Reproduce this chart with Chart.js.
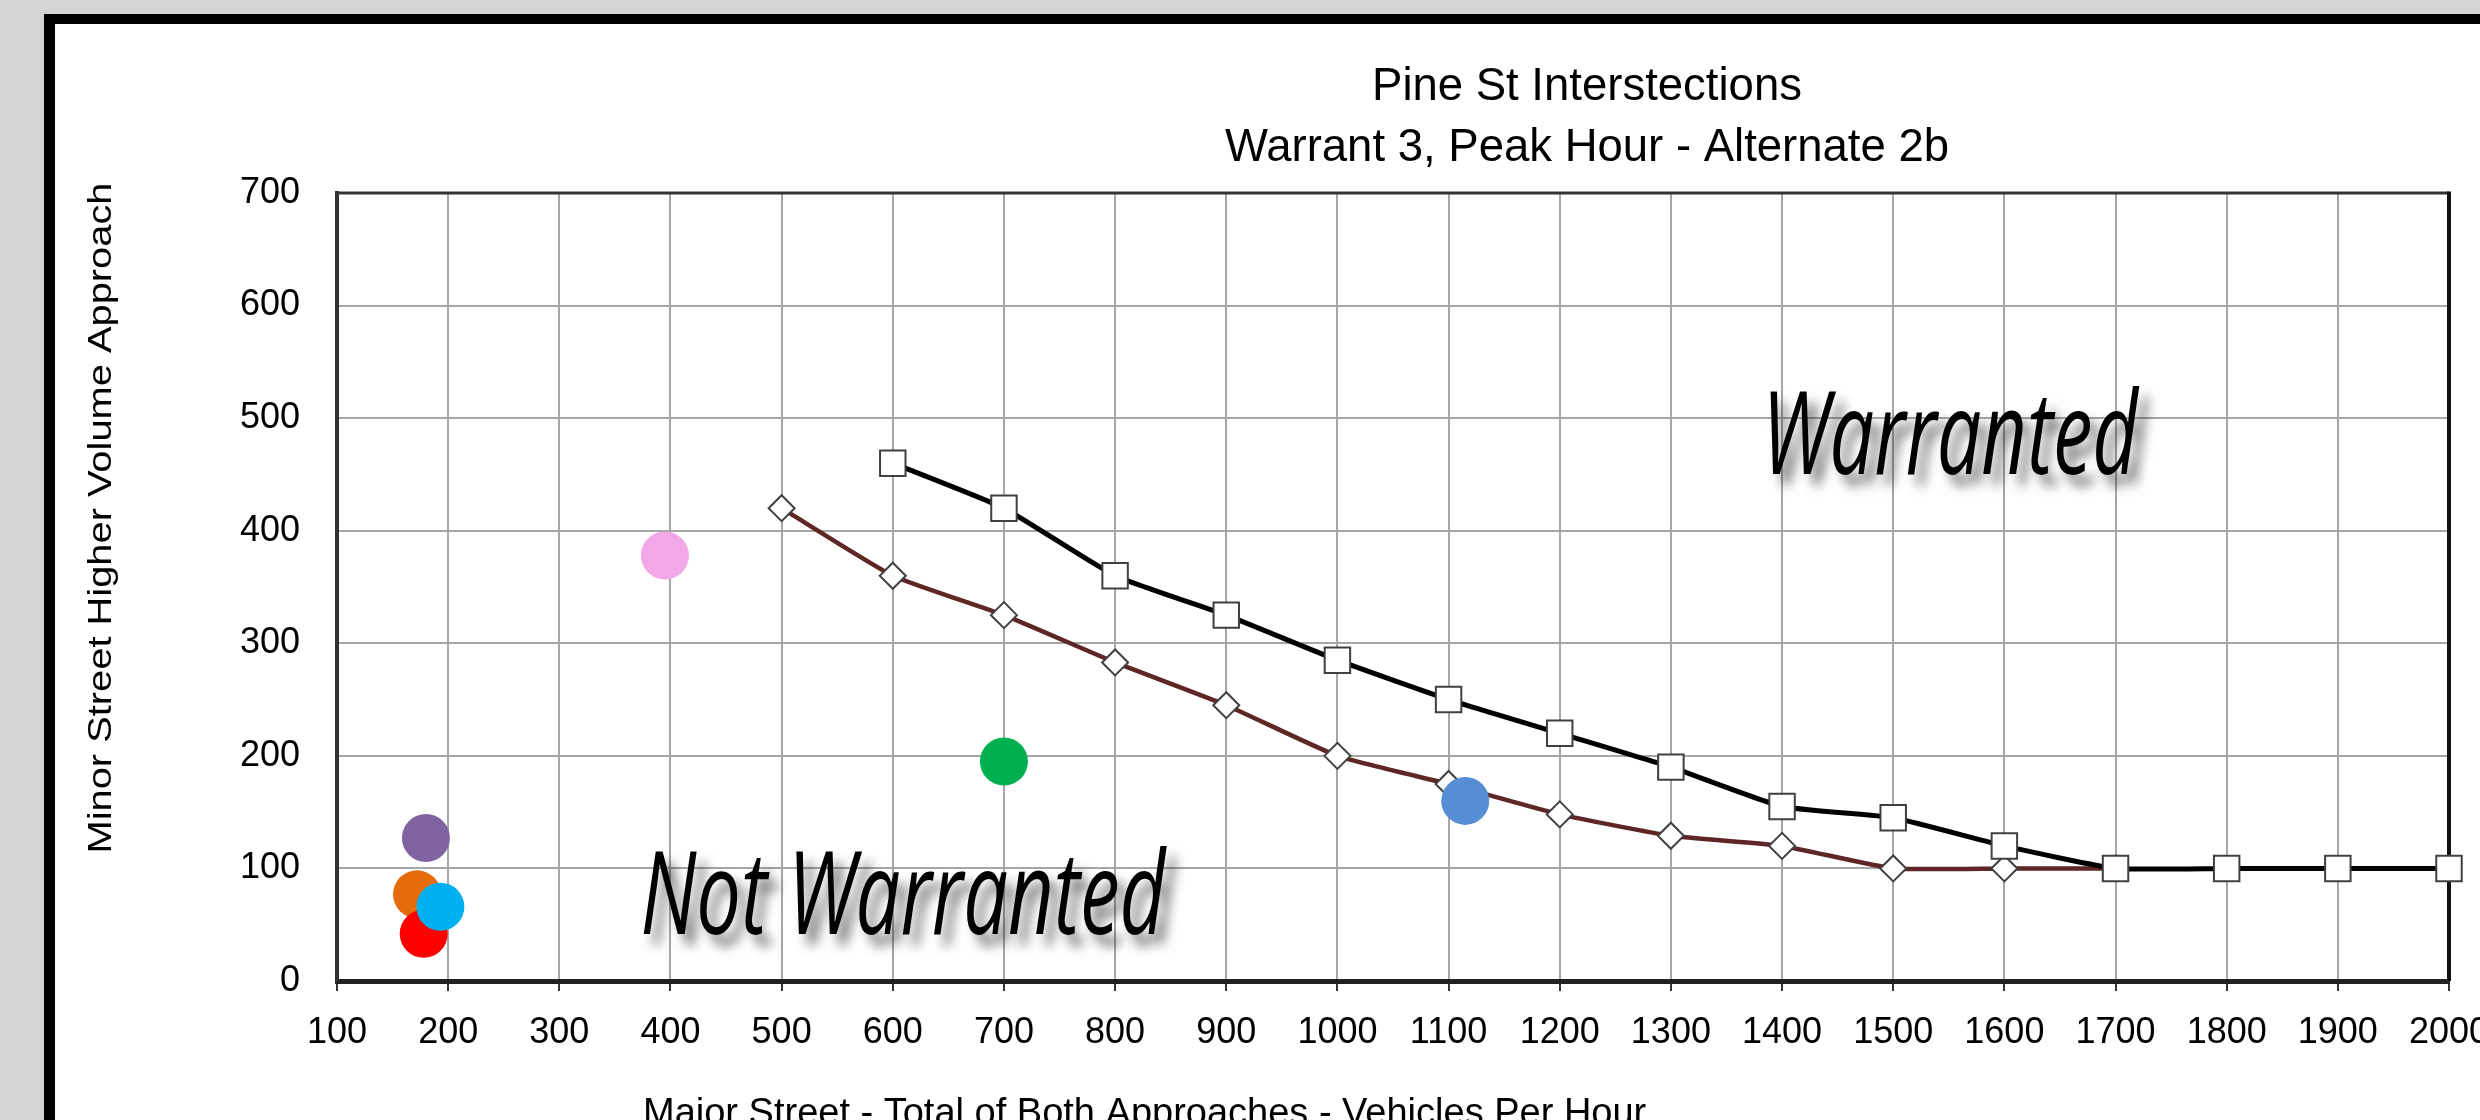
<!DOCTYPE html>
<html><head><meta charset="utf-8">
<script src="https://cdn.jsdelivr.net/npm/chart.js@4.4.1/dist/chart.umd.min.js"></script>
<style>
html,body{margin:0;padding:0;width:2480px;height:1120px;overflow:hidden;background:#d4d5d7;}
#frame{position:absolute;left:44px;top:14px;width:2500px;height:1200px;background:#fff;border-left:11px solid #000;border-top:10px solid #000;}
#wrap{position:absolute;left:0;top:0;width:2480px;height:1120px;overflow:hidden;}
canvas{position:absolute;left:0;top:0;}
</style></head><body>
<div id="frame"></div>
<div id="wrap"><canvas id="c" width="2560" height="1120"></canvas></div>
<script>
// ---- text ----
const titleLines = ['Pine St Interstections', 'Warrant 3, Peak Hour - Alternate 2b'];
const xAxisTitle = 'Major Street - Total of Both Approaches - Vehicles Per Hour';
const yAxisTitle = 'Minor Street Higher Volume Approach';
const zoneLabels = ['Warranted', 'Not Warranted'];
// zone label anchor (data coordinates: left edge / baseline)
const zoneX = [1382, 373];
const zoneY = [450, 42];

// ---- tick labels ----
const xTicks = [100,200,300,400,500,600,700,800,900,1000,1100,1200,1300,1400,1500,1600,1700,1800,1900,2000];
const yTicks = [0,100,200,300,400,500,600,700];

// ---- series: Warrant 3 peak hour curve (squares) ----
const warrantX = [600,700,800,900,1000,1100,1200,1300,1400,1500,1600,1700,1800,1900,2000];
const warrantY = [460,420,360,325,285,250,220,190,155,145,120,100,100,100,100];

// ---- series: Alternate 2b curve (diamonds) ----
const altX = [500,600,700,800,900,1000,1100,1200,1300,1400,1500,1600,1700];
const altY = [420,360,325,283,245,200,175,148,129,120,100,100,100];

// ---- intersections (coloured dots) ----
const siteX = [180,172,178,193,700,395,1115];
const siteY = [127,77,42,66,195,378,160];
const siteColors = ['#8064a2','#e46c0a','#ff0000','#00b0f0','#00b050','#f2a7e6','#558ed5'];

const FONT = '"Liberation Sans", Arial, sans-serif';

const deco = {
  id: 'deco',
  beforeDatasetsDraw(chart) {
    const {ctx, chartArea: a} = chart;
    ctx.save();
    ctx.strokeStyle = '#333'; ctx.lineWidth = 3;
    ctx.beginPath(); ctx.moveTo(a.left, a.top); ctx.lineTo(a.right, a.top); ctx.stroke();
    ctx.strokeStyle = '#111'; ctx.lineWidth = 4;
    ctx.beginPath(); ctx.moveTo(a.right, a.top - 1.5); ctx.lineTo(a.right, a.bottom); ctx.stroke();
    ctx.restore();
  },
  afterDraw(chart) {
    const {ctx} = chart;
    const xs = chart.scales.x, ys = chart.scales.y;
    ctx.save();
    ctx.fillStyle = '#000';
    // chart title
    ctx.font = '45.5px ' + FONT;
    ctx.textAlign = 'center'; ctx.textBaseline = 'alphabetic';
    ctx.fillText(titleLines[0], 1587, 100);
    ctx.fillText(titleLines[1], 1587, 161);
    // x axis title
    ctx.font = '38px ' + FONT;
    ctx.textAlign = 'left';
    ctx.fillText(xAxisTitle, 643, 1125);
    // y axis title (rotated)
    ctx.save();
    ctx.font = '33px ' + FONT;
    ctx.translate(102, 518);
    ctx.rotate(-Math.PI / 2);
    const wy = ctx.measureText(yAxisTitle).width;
    ctx.scale(671 / wy, 1);
    ctx.textAlign = 'center'; ctx.textBaseline = 'middle';
    ctx.fillText(yAxisTitle, 0, 0);
    ctx.restore();
    // zone labels
    const targetW = [376, 525];
    zoneLabels.forEach((t, i) => {
      ctx.save();
      ctx.font = 'italic 116px "Open Sans", sans-serif';
      const w = ctx.measureText(t).width;
      ctx.translate(xs.getPixelForValue(zoneX[i]), ys.getPixelForValue(zoneY[i]));
      ctx.scale(targetW[i] / w, 1);
      ctx.textAlign = 'left'; ctx.textBaseline = 'alphabetic';
      ctx.shadowColor = 'rgba(0,0,0,0.55)';
      ctx.shadowBlur = 12; ctx.shadowOffsetX = 9; ctx.shadowOffsetY = 11;
      ctx.fillStyle = '#000';
      ctx.fillText(t, 0, 0);
      ctx.restore();
    });
    ctx.restore();
  }
};

const pts = (xa, ya) => xa.map((x, i) => ({x: x, y: ya[i]}));

new Chart(document.getElementById('c'), {
  type: 'scatter',
  data: {
    datasets: [
      {
        label: 'Intersections',
        data: pts(siteX, siteY),
        pointRadius: 24, pointHoverRadius: 24,
        pointBackgroundColor: siteColors,
        pointBorderWidth: 0,
        showLine: false, clip: false, order: 0
      },
      {
        label: 'Warrant 3 Peak Hour',
        data: pts(warrantX, warrantY),
        showLine: true, borderColor: '#000', borderWidth: 5, tension: 0.15,
        pointStyle: 'rect', pointRadius: 18, pointHoverRadius: 18,
        pointBackgroundColor: '#fff', pointBorderColor: '#404040', pointBorderWidth: 2,
        clip: false, order: 1
      },
      {
        label: 'Alternate 2b',
        data: pts(altX, altY),
        showLine: true, borderColor: '#5e2624', borderWidth: 4.5, tension: 0.15,
        pointStyle: 'rectRot', pointRadius: 13, pointHoverRadius: 13,
        pointBackgroundColor: '#fff', pointBorderColor: '#404040', pointBorderWidth: 2,
        clip: false, order: 2
      }
    ]
  },
  options: {
    responsive: false,
    devicePixelRatio: 1,
    animation: false,
    events: [],
    layout: {padding: {top: 193, right: 111, left: 0, bottom: 0}},
    plugins: {legend: {display: false}, tooltip: {enabled: false}, title: {display: false}},
    scales: {
      x: {
        type: 'linear', min: 100, max: 2000,
        afterBuildTicks: s => { s.ticks = xTicks.map(v => ({value: v})); },
        afterFit: s => { s.height = 139; },
        grid: {color: '#a6a6a6', lineWidth: 2, drawTicks: true, tickLength: 10, tickColor: '#333', tickWidth: 2},
        border: {color: '#222', width: 5},
        ticks: {color: '#000', font: {family: FONT, size: 36}, padding: 20, maxRotation: 0, autoSkip: false,
                callback: v => String(v)}
      },
      y: {
        type: 'linear', min: 0, max: 700,
        afterBuildTicks: s => { s.ticks = yTicks.map(v => ({value: v})); },
        afterFit: s => { s.width = 337; },
        grid: {color: '#a6a6a6', lineWidth: 2, drawTicks: false},
        border: {color: '#333', width: 4},
        ticks: {color: '#000', font: {family: FONT, size: 36}, padding: 37, callback: v => String(v)}
      }
    }
  },
  plugins: [deco]
});
</script>
</body></html>
